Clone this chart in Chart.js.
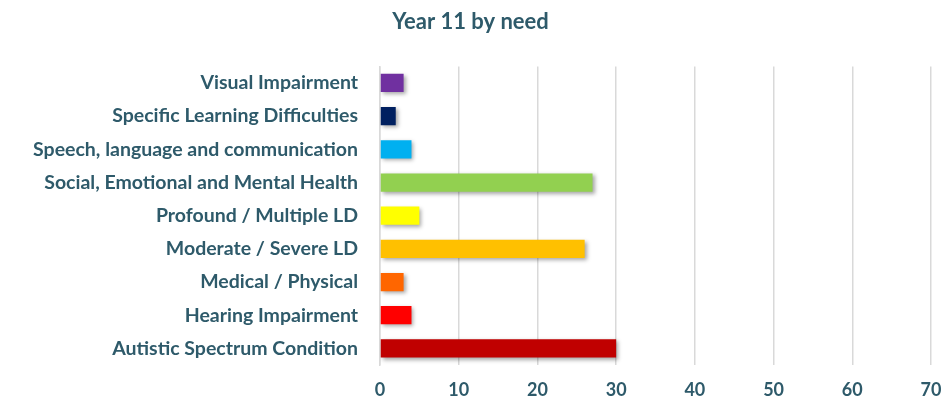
<!DOCTYPE html>
<html>
<head>
<meta charset="utf-8">
<script src="https://cdn.jsdelivr.net/npm/chart.js@4/dist/chart.umd.min.js"></script>
<style>
  html, body { margin: 0; padding: 0; background: #fff; }
  #wrap { width: 944px; height: 402px; }
</style>
</head>
<body>
<div id="wrap"><canvas id="chart"></canvas></div>
<script>
const needs = [
  "Visual Impairment",
  "Specific Learning Difficulties",
  "Speech, language and communication",
  "Social, Emotional and Mental Health",
  "Profound / Multiple LD",
  "Moderate / Severe LD",
  "Medical / Physical",
  "Hearing Impairment",
  "Autistic Spectrum Condition"
];
const pupils = [3, 2, 4, 27, 5, 26, 3, 4, 30];
const barColours = ["#7030A0", "#002060", "#00B0F0", "#92D050", "#FFFF00", "#FFC000", "#FF6600", "#FF0000", "#C00000"];
const xMax = 70;
const xStep = 10;

const textColour = "#2E5A6A";
const fontFamily = "Lato, 'Open Sans', sans-serif";

// soft drop shadow under the bars, like the spreadsheet export
const barShadow = {
  id: "barShadow",
  beforeDatasetsDraw(chart) {
    const c = chart.ctx;
    c.save();
    c.shadowColor = "rgba(0,0,0,0.35)";
    c.shadowBlur = 4;
    c.shadowOffsetX = 2;
    c.shadowOffsetY = 2;
  },
  afterDatasetsDraw(chart) {
    chart.ctx.restore();
  }
};

new Chart(document.getElementById("chart"), {
  type: "bar",
  data: {
    labels: needs,
    datasets: [{
      data: pupils,
      backgroundColor: barColours,
      borderWidth: 0,
      categoryPercentage: 1,
      barPercentage: 0.55
    }]
  },
  options: {
    indexAxis: "y",
    responsive: true,
    maintainAspectRatio: false,
    animation: false,
    layout: { padding: { left: 0, right: 3, top: 0, bottom: 0 } },
    plugins: {
      legend: { display: false },
      tooltip: { enabled: false },
      title: {
        display: true,
        text: "Year 11 by need",
        color: textColour,
        font: { family: fontFamily, size: 22, weight: "bold" },
        padding: { top: 9, bottom: 31 }
      }
    },
    scales: {
      x: {
        min: 0,
        max: xMax,
        afterFit(scale) {
          scale.height = 37;
          scale.paddingRight = 13;
        },
        ticks: {
          stepSize: xStep,
          color: textColour,
          font: { family: fontFamily, size: 18, weight: "bold" },
          padding: 14
        },
        grid: { color: "#D9D9D9", lineWidth: 1.5, drawTicks: false },
        border: { display: false }
      },
      y: {
        afterFit(scale) { scale.width = 380; },
        ticks: {
          color: textColour,
          font: { family: fontFamily, size: 19.5, weight: "bold" },
          padding: 22
        },
        grid: { display: false, drawTicks: false },
        border: { display: true, color: "#D9D9D9", width: 1.5 }
      }
    }
  },
  plugins: [barShadow]
});
</script>
</body>
</html>
